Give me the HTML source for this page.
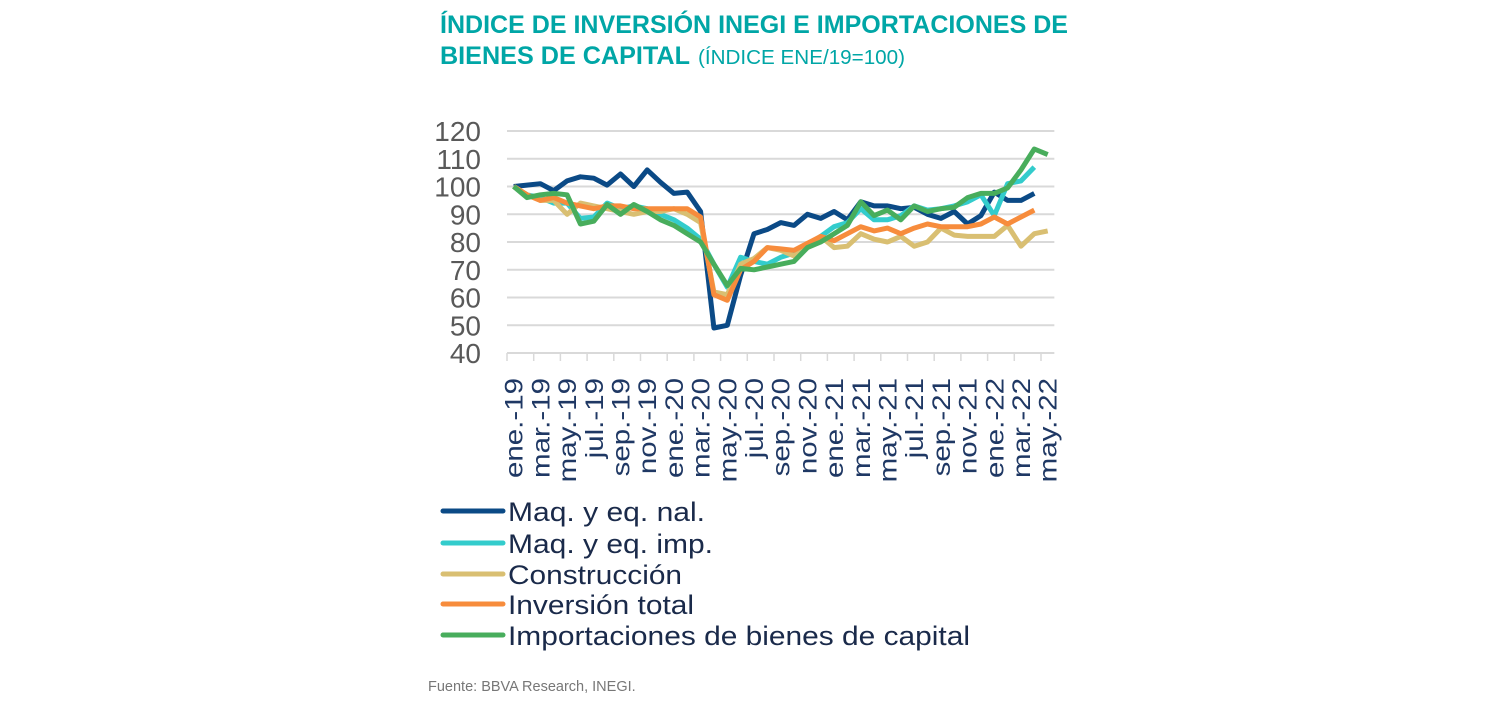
<!DOCTYPE html>
<html><head><meta charset="utf-8"><style>
html,body{margin:0;padding:0;background:#fff;width:1501px;height:703px;overflow:hidden}
svg{display:block;font-family:"Liberation Sans",sans-serif}
</style></head><body>
<svg id="chart" width="1501" height="703" viewBox="0 0 1501 703">
<text x="440" y="33" font-size="25" font-weight="bold" fill="#00a6a6" textLength="628" lengthAdjust="spacingAndGlyphs">ÍNDICE DE INVERSIÓN INEGI E IMPORTACIONES DE</text>
<text x="440" y="64" font-size="25" fill="#00a6a6"><tspan font-weight="bold" textLength="250" lengthAdjust="spacingAndGlyphs">BIENES DE CAPITAL</tspan><tspan font-size="20" dx="8" textLength="207" lengthAdjust="spacingAndGlyphs">(ÍNDICE ENE/19=100)</tspan></text>
<g id="grid"></g>
<g id="yaxis"></g>
<g id="xaxis"></g>
<g id="series"></g>
<g id="legend"></g>
<text x="428" y="691" font-size="14.5" fill="#777">Fuente: BBVA Research, INEGI.</text>
</svg>
<script>
const months = ["ene.-19","feb.-19","mar.-19","abr.-19","may.-19","jun.-19","jul.-19","ago.-19","sep.-19","oct.-19","nov.-19","dic.-19","ene.-20","feb.-20","mar.-20","abr.-20","may.-20","jun.-20","jul.-20","ago.-20","sep.-20","oct.-20","nov.-20","dic.-20","ene.-21","feb.-21","mar.-21","abr.-21","may.-21","jun.-21","jul.-21","ago.-21","sep.-21","oct.-21","nov.-21","dic.-21","ene.-22","feb.-22","mar.-22","abr.-22","may.-22"];
const yTicks = [40,50,60,70,80,90,100,110,120];
const seriesNames = ["Maq. y eq. nal.","Maq. y eq. imp.","Construcción","Inversión total","Importaciones de bienes de capital"];
const seriesColors = ["#0b4a86","#33cccc","#d9bf72","#f78c3c","#48ad5c"];
const nal = [100,100.5,101,98.5,102,103.5,103,100.5,104.5,100,106,101.5,97.5,98,91,49,50,68,83,84.5,87,86,90,88.5,91,88,94.5,93,93,92,92.5,90,88.5,91,86.5,89.5,98,95,95,97.5];
const imp = [100,97,96,94,94,88.5,89,94,92,93,92,90,88,85,81,72,63.7,74.5,73,72,74.5,76,79,82,85.5,87,92,88,88,89.5,93,91.5,92,93,94.5,97,89.5,101,102,107];
const constr = [100,97,95,95,90,94,93,92,91,90,91,91,92,90,87,62,61,72,74,78,77,75,79,82,78,78.5,83,81,80,82,78.5,80,85,82.5,82,82,82,86,78.5,83,84];
const total = [100,97,95,96,94,93,92,93,93,92,92,92,92,92,89,61,59,70,73,78,77.5,77,79.5,82,80.5,83,85.5,84,85,83,85,86.5,85.5,85.5,85.5,86.5,89,86.5,89,91.5];
const importaciones = [100,96,97,97.5,97,86.5,87.5,93.5,90,93.5,91,88,86,83,80,72,64.3,70.5,70,71,72,73,78,80,83,86,94.5,89.5,91.5,88,93,91,92,92.5,96,97.5,97.5,99.5,106,113.5,111.5];
const allSeries = [nal,imp,constr,total,importaciones];

const NS="http://www.w3.org/2000/svg";
const X0=507, step=13.35, Yb=353, Yt=131, vmin=40, vmax=120;
function xs(i){return X0+step*(i+0.5);}
function ys(v){return Yb-(v-vmin)/(vmax-vmin)*(Yb-Yt);}
function mk(tag,attrs,parent){const e=document.createElementNS(NS,tag);for(const k in attrs)e.setAttribute(k,attrs[k]);parent.appendChild(e);return e;}
const grid=document.getElementById('grid'),yax=document.getElementById('yaxis'),xax=document.getElementById('xaxis'),ser=document.getElementById('series'),leg=document.getElementById('legend');
const Xend=X0+step*months.length;
yTicks.forEach(v=>{
  if(v>vmin){const l=mk('line',{x1:X0,x2:Xend,y1:ys(v),y2:ys(v),stroke:'#d9d9d9','stroke-width':2},grid);
  
  }
  const t=mk('text',{x:481,y:ys(v)+10,'text-anchor':'end','font-size':28,fill:'#595959'},yax);
  t.textContent=v;
  
  
});
const ax=mk('line',{x1:X0,x2:Xend,y1:Yb,y2:Yb,stroke:'#d9d9d9','stroke-width':2},xax);


for(let i=0;i<=months.length;i+=2){
  const tk=mk('line',{x1:X0+step*i,x2:X0+step*i,y1:Yb,y2:Yb+8,stroke:'#d9d9d9','stroke-width':1.5},xax);
  
  
}
months.forEach((m,i)=>{
  if(i%2)return;
  const x=xs(i)+9;
  const t=mk('text',{x:x,y:378,transform:`rotate(-90 ${x} 378) scale(1.18 1)`,'text-anchor':'end','font-size':25,fill:'#1f3864'},xax);
  t.setAttribute('transform',`translate(${x} 378) rotate(-90) scale(1.18 1) translate(${-x} -378)`);
  t.textContent=m;
  
  
});
allSeries.forEach((s,k)=>{
  const d=s.map((v,i)=>(i?'L':'M')+xs(i).toFixed(1)+' '+ys(v).toFixed(1)).join(' ');
  const p=mk('path',{d:d,fill:'none',stroke:seriesColors[k],'stroke-width':5,'stroke-linejoin':'round'},ser);
  
  
});
const rows=[511,543,574,604,635];
const legW=[197,205,174,186,462];
seriesNames.forEach((n,k)=>{
  const g=mk('g',{},leg);
  
  
  mk('line',{x1:443,x2:503,y1:rows[k],y2:rows[k],stroke:seriesColors[k],'stroke-width':5,'stroke-linecap':'round'},g);
  const t=mk('text',{x:508,y:rows[k]+10,'font-size':27,fill:'#1a2a4a',textLength:legW[k],lengthAdjust:'spacingAndGlyphs'},g);
  t.textContent=n;
});
</script>
</body></html>
